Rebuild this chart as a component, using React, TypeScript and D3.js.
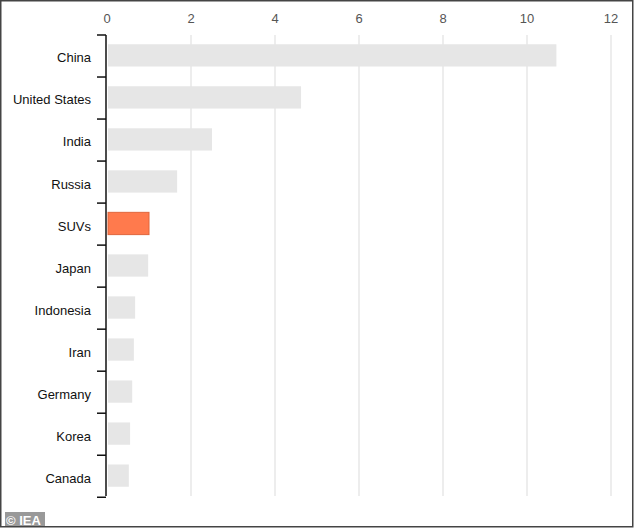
import React from "react";
import * as d3 from "d3";

// Values (units as in the chart)
const categories = [
  "China",
  "United States",
  "India",
  "Russia",
  "SUVs",
  "Japan",
  "Indonesia",
  "Iran",
  "Germany",
  "Korea",
  "Canada",
];
const values = [10.7, 4.62, 2.5, 1.67, 1.0, 0.98, 0.67, 0.64, 0.6, 0.55, 0.52];
const highlight = "SUVs";
const xTicks = [0, 2, 4, 6, 8, 10, 12];

const W = 634;
const H = 528;
const margin = { top: 35, right: 23, bottom: 32, left: 107 };

export default function App() {
  const x = d3
    .scaleLinear()
    .domain([0, 12])
    .range([margin.left, W - margin.right]);
  const y = d3
    .scaleBand()
    .domain(categories)
    .range([margin.top, H - margin.bottom])
    .paddingInner(0.47)
    .paddingOuter(0.22);
  // band boundaries for the tick marks on the left axis
  const step = y.step();
  const y0 = margin.top;
  const y1 = H - margin.bottom;

  return (
    <div>
      <style>{`body{margin:0}`}</style>
      <svg width={W} height={H} style={{ display: "block", fontFamily: "Arial, 'Liberation Sans', sans-serif" }}>
        <rect x={0} y={0} width={W} height={H} fill="#fff" />

        {/* grid */}
        {xTicks.slice(1).map((t) => (
          <line key={t} x1={x(t)} x2={x(t)} y1={y0} y2={y1} stroke="#e3e3e3" strokeWidth={1.3} />
        ))}

        {/* top tick labels */}
        {xTicks.map((t) => (
          <text key={t} x={x(t)} y={23} textAnchor="middle" fontSize={13} fill="#555">
            {t}
          </text>
        ))}

        {/* bars */}
        {categories.map((c, i) => {
          const hl = c === highlight;
          return (
            <rect
              key={c}
              x={x(0) + 1}
              y={y(c)!}
              width={x(values[i]) - x(0) - 1}
              height={y.bandwidth()}
              fill={hl ? "#ff7a4d" : "#e6e6e6"}
              stroke={hl ? "#e0663d" : "none"}
              strokeWidth={hl ? 1 : 0}
            />
          );
        })}

        {/* left axis with band ticks */}
        <line x1={margin.left - 1} x2={margin.left - 1} y1={y0} y2={y1} stroke="#111" strokeWidth={1.5} />
        {d3.range(categories.length + 1).map((i) => (
          <line
            key={i}
            x1={margin.left - 10}
            x2={margin.left - 1}
            y1={y0 + i * step}
            y2={y0 + i * step}
            stroke="#111"
            strokeWidth={1.5}
          />
        ))}

        {/* category labels */}
        {categories.map((c) => (
          <text
            key={c}
            x={91}
            y={y(c)! + y.bandwidth() / 2 + 2.5}
            dy="0.35em"
            textAnchor="end"
            fontSize={13}
            fill="#111"
          >
            {c}
          </text>
        ))}

        {/* logo */}
        <rect x={5} y={512} width={40} height={15} fill="#999" />
        <text x={6} y={525} fontSize={13} fontWeight="bold" fill="#fff">
          © IEA
        </text>

        {/* frame */}
        <rect x={0.75} y={0.75} width={W - 2} height={H - 2} fill="none" stroke="#444" strokeWidth={1.5} />
      </svg>
    </div>
  );
}
